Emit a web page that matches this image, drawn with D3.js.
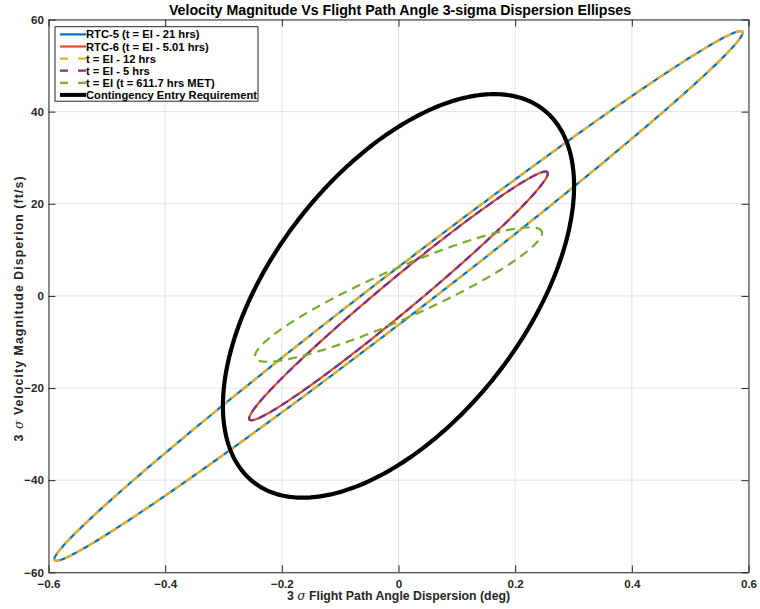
<!DOCTYPE html>
<html>
<head>
<meta charset="utf-8">
<script src="https://cdn.jsdelivr.net/npm/d3@7"></script>
<style>
  html, body { margin: 0; padding: 0; background: #fff; }
  svg text { font-family: "Liberation Sans", Arial, Helvetica, sans-serif; }
</style>
</head>
<body>
<svg id="chart" width="760" height="609"></svg>
<script>
// 3-sigma dispersion ellipses: half-extent in FPA (deg), half-extent in velocity (ft/s),
// correlation coefficient, and ellipse centre.
const seriesNames = [
  "RTC-5 (t = EI - 21 hrs)",
  "RTC-6 (t = EI - 5.01 hrs)",
  "t = EI - 12 hrs",
  "t = EI - 5 hrs",
  "t = EI (t = 611.7 hrs MET)",
  "Contingency Entry Requirement"
];
const sigmaFpa   = [0.590, 0.256, 0.590, 0.256, 0.246, 0.301];
const sigmaVel   = [57.5, 27.0, 57.5, 27.0, 14.6, 43.8];
const correlation = [0.994, 0.985, 0.994, 0.985, 0.915, 0.545];
const centerFpa  = [0, 0, 0, 0, 0, 0];
const centerVel  = [0, 0, 0, 0, 0.3, 0];

const xTicks = [-0.6, -0.4, -0.2, 0, 0.2, 0.4, 0.6];
const yTicks = [-60, -40, -20, 0, 20, 40, 60];

const titleText = "Velocity Magnitude Vs Flight Path Angle 3-sigma Dispersion Ellipses";
const xLabel = "Flight Path Angle Dispersion (deg)";
const yLabel = "Velocity Magnitude Disperion (ft/s)";

// styling per series
const colors = ["#0072BD", "#D95319", "#EDB120", "#7E2F8E", "#77AC30", "#000000"];
const dashes = [null, null, "8,5", "8,5", "9,6", null];
const widths = [2.2, 2.2, 2.2, 2.2, 2.2, 4.2];

const svg = d3.select("#chart");
const plotLeft = 48.5, plotRight = 748.5, plotTop = 19.5, plotBottom = 572.3;

const x = d3.scaleLinear().domain([-0.6, 0.6]).range([plotLeft, plotRight]);
const y = d3.scaleLinear().domain([-60, 60]).range([plotBottom, plotTop]);

const axisColor = "#262626";

// grid
const grid = svg.append("g");
grid.selectAll(".gx").data(xTicks).join("line")
  .attr("x1", d => x(d)).attr("x2", d => x(d))
  .attr("y1", plotTop).attr("y2", plotBottom)
  .attr("stroke", "#e3e3e3").attr("stroke-width", 1);
grid.selectAll(".gy").data(yTicks).join("line")
  .attr("x1", plotLeft).attr("x2", plotRight)
  .attr("y1", d => y(d)).attr("y2", d => y(d))
  .attr("stroke", "#e3e3e3").attr("stroke-width", 1);

// ellipses
const angles = d3.range(0, 361, 1).map(a => a * Math.PI / 180);
const line = d3.line().x(d => x(d[0])).y(d => y(d[1]));
const plot = svg.append("g");
seriesNames.forEach((name, i) => {
  const sx = sigmaFpa[i], sy = sigmaVel[i], r = correlation[i];
  const pts = angles.map(t => [
    centerFpa[i] + sx * Math.cos(t),
    centerVel[i] + sy * (r * Math.cos(t) + Math.sqrt(1 - r * r) * Math.sin(t))
  ]);
  plot.append("path")
    .attr("d", line(pts))
    .attr("fill", "none")
    .attr("stroke", colors[i])
    .attr("stroke-width", widths[i])
    .attr("stroke-dasharray", dashes[i])
    .attr("stroke-linejoin", "round");
});

// axes box with ticks on every side
const tickFont = 11.6;
const axB = d3.axisBottom(x).tickValues(xTicks).tickFormat(d3.format("")).tickSizeInner(-7).tickSizeOuter(0).tickPadding(7.5);
const axT = d3.axisTop(x).tickValues(xTicks).tickFormat("").tickSizeInner(-7).tickSizeOuter(0);
const axL = d3.axisLeft(y).tickValues(yTicks).tickFormat(d3.format("")).tickSizeInner(-7).tickSizeOuter(0).tickPadding(4.5);
const axR = d3.axisRight(y).tickValues(yTicks).tickFormat("").tickSizeInner(-7).tickSizeOuter(0);

function styleAxis(g) {
  g.select(".domain").attr("stroke", axisColor).attr("stroke-width", 1);
  g.selectAll(".tick line").attr("stroke", axisColor).attr("stroke-width", 1);
  g.selectAll(".tick text").attr("fill", axisColor)
    .attr("font-family", "'Liberation Sans', Arial, sans-serif")
    .attr("font-weight", "bold").attr("font-size", tickFont);
}
svg.append("g").attr("transform", `translate(0,${plotBottom})`).call(axB).call(styleAxis);
svg.append("g").attr("transform", `translate(0,${plotTop})`).call(axT).call(styleAxis);
svg.append("g").attr("transform", `translate(${plotLeft},0)`).call(axL).call(styleAxis);
svg.append("g").attr("transform", `translate(${plotRight},0)`).call(axR).call(styleAxis);

// title
svg.append("text")
  .attr("x", 400).attr("y", 15)
  .attr("text-anchor", "middle")
  .attr("font-weight", "bold").attr("font-size", 14.2)
  .attr("fill", "#000")
  .text(titleText);

// axis labels with italic sigma
const xl = svg.append("text")
  .attr("x", 398.5).attr("y", 600)
  .attr("text-anchor", "middle")
  .attr("font-weight", "bold").attr("font-size", 12.3)
  .attr("fill", axisColor);
xl.append("tspan").text("3 ");
xl.append("tspan").attr("font-family", "'DejaVu Serif', serif").attr("font-style", "italic").attr("font-weight", "normal").text("σ");
xl.append("tspan").text(" " + xLabel);

const yl = svg.append("text")
  .attr("transform", "translate(23,309) rotate(-90)")
  .attr("text-anchor", "middle")
  .attr("font-weight", "bold").attr("font-size", 12.3)
  .attr("textLength", 265).attr("lengthAdjust", "spacing")
  .attr("fill", axisColor);
yl.append("tspan").text("3 ");
yl.append("tspan").attr("font-family", "'DejaVu Serif', serif").attr("font-style", "italic").attr("font-weight", "normal").text("σ");
yl.append("tspan").text(" " + yLabel);

// legend
const lg = svg.append("g");
const lgX = 55, lgY = 26.7, lgW = 203, lgH = 74.5;
lg.append("rect")
  .attr("x", lgX).attr("y", lgY).attr("width", lgW).attr("height", lgH)
  .attr("fill", "#fff").attr("stroke", axisColor).attr("stroke-width", 1);
const legendDash = [null, null, "8,10", "8,10", "8,10", null];
seriesNames.forEach((name, i) => {
  const ry = 34.4 + i * 12.1;
  lg.append("line")
    .attr("x1", 60).attr("x2", 86).attr("y1", ry).attr("y2", ry)
    .attr("stroke", colors[i]).attr("stroke-width", i === 5 ? 4 : 2.2)
    .attr("stroke-dasharray", legendDash[i]);
  lg.append("text")
    .attr("x", 86).attr("y", ry + 4)
    .attr("font-weight", "bold").attr("font-size", 11.2)
    .attr("fill", "#000")
    .text(name);
});
</script>
</body>
</html>
